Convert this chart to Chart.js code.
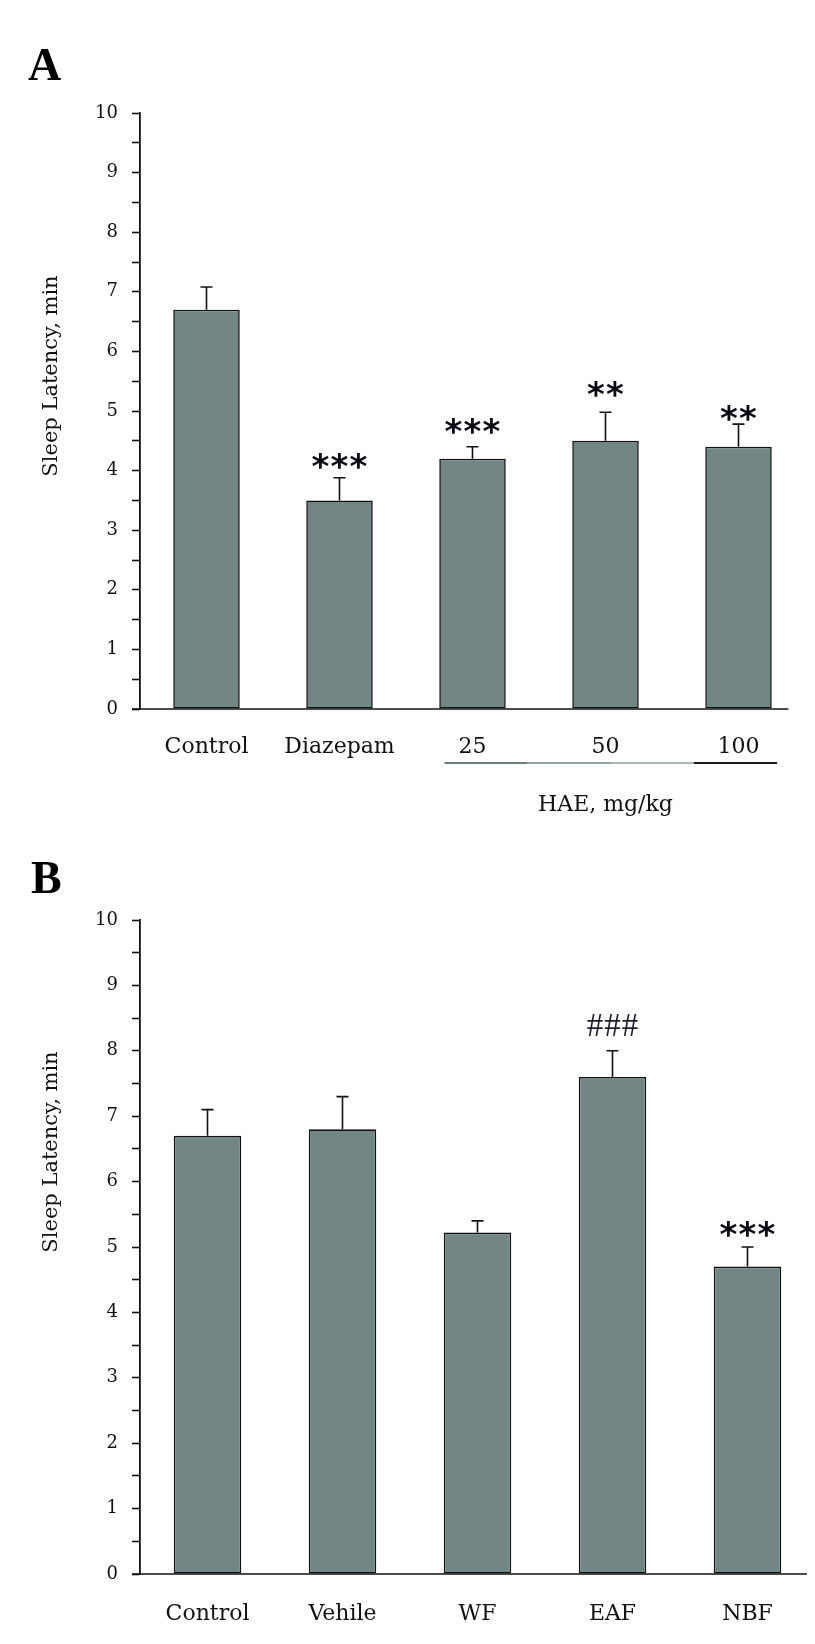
<!DOCTYPE html>
<html><head><meta charset="utf-8">
<script src="https://cdn.jsdelivr.net/npm/chart.js@4.4.0/dist/chart.umd.min.js"></script>
<style>html,body{margin:0;padding:0;background:#fff;overflow:hidden} canvas{display:block;}</style>
</head><body>
<canvas id="cA" width="815" height="830" style="width:815px;height:830px"></canvas>
<canvas id="cB" width="815" height="814" style="width:815px;height:814px"></canvas>
<script>
// ---------- data ----------
const categoriesA = ['Control', 'Diazepam', '25', '50', '100'];
const latencyA    = [6.7, 3.5, 4.2, 4.5, 4.4];
const semA        = [0.38, 0.38, 0.2, 0.48, 0.38];
const marksA      = ['', '***', '***', '**', '**'];
const markLevelA  = [null, 4.16, 4.74, 5.37, 4.97];

const categoriesB = ['Control', 'Vehile', 'WF', 'EAF', 'NBF'];
const latencyB    = [6.7, 6.8, 5.22, 7.6, 4.7];
const semB        = [0.4, 0.5, 0.18, 0.4, 0.3];
const marksB      = ['', '', '', '###', '***'];
const markLevelB  = [null, null, null, 8.39, 5.27];

const yMin = 0, yMax = 10, yStep = 0.5;
const yTitle = 'Sleep Latency, min';
const groupLabelA = 'HAE, mg/kg';

// ---------- style ----------
const BAR = '#728686';
const INK = '#111';
const SERIF = '"DejaVu Serif", serif';

function decoPlugin(cfg) {
  return {
    id: 'deco' + cfg.letter,
    afterDatasetsDraw(chart) {
      const ctx = chart.ctx, x = chart.scales.x, y = chart.scales.y, ca = chart.chartArea;
      const step = x.getPixelForValue(1) - x.getPixelForValue(0);
      ctx.save();
      // x axis baseline
      ctx.strokeStyle = INK; ctx.lineWidth = 1.6;
      ctx.beginPath();
      ctx.moveTo(ca.left - 8, y.getPixelForValue(0));
      ctx.lineTo(x.getPixelForValue(4) + cfg.axisEnd * step, y.getPixelForValue(0));
      ctx.stroke();
      // error bars
      cfg.values.forEach((v, i) => {
        const cx = x.getPixelForValue(i);
        const y0 = y.getPixelForValue(v), y1 = y.getPixelForValue(v + cfg.sem[i]);
        ctx.lineWidth = 1.6; ctx.strokeStyle = INK;
        ctx.beginPath(); ctx.moveTo(cx, y0); ctx.lineTo(cx, y1);
        ctx.moveTo(cx - 6, y1); ctx.lineTo(cx + 6, y1); ctx.stroke();
      });
      // significance marks
      cfg.marks.forEach((m, i) => {
        if (!m) return;
        const cx = x.getPixelForValue(i), cy = y.getPixelForValue(cfg.levels[i]);
        let font, gap, color;
        if (m[0] === '*') { font = 'bold 34px "DejaVu Sans"'; gap = 19; color = '#0a0a14'; }
        else { font = '33px "Liberation Serif"'; gap = 17.5; color = '#1c1c2c'; }
        ctx.font = font; ctx.fillStyle = color; ctx.textAlign = 'center'; ctx.textBaseline = 'alphabetic';
        const mt = ctx.measureText(m[0]);
        const base = cy + (mt.actualBoundingBoxAscent - mt.actualBoundingBoxDescent) / 2;
        const n = m.length;
        for (let k = 0; k < n; k++) {
          ctx.fillText(m[k], cx + (k - (n - 1) / 2) * gap, base);
        }
      });
      // y title
      ctx.save();
      ctx.translate(cfg.titleX, cfg.titleY);
      ctx.rotate(-Math.PI / 2);
      ctx.font = '21px ' + SERIF; ctx.fillStyle = INK;
      ctx.textAlign = 'center'; ctx.textBaseline = 'middle';
      ctx.fillText(yTitle, 0, 0);
      ctx.restore();
      // panel letter
      ctx.font = 'bold 46px "Liberation Serif"'; ctx.fillStyle = '#000';
      ctx.textAlign = 'left'; ctx.textBaseline = 'alphabetic';
      ctx.fillText(cfg.letter, cfg.letterX, cfg.letterY);
      // group underline + label
      if (cfg.group) {
        const yl = y.getPixelForValue(0) + 54;
        const xs = x.getPixelForValue(2) - 0.21 * step;
        const xe = x.getPixelForValue(4) + 0.29 * step;
        const cols = ['#6a7e7e', '#8ea2a2', '#a9b6b6', '#1a1a1a'];
        const seg = (xe - xs) / cols.length;
        ctx.lineWidth = 2;
        cols.forEach((c, k) => {
          ctx.strokeStyle = c; ctx.beginPath();
          ctx.moveTo(xs + k * seg, yl); ctx.lineTo(xs + (k + 1) * seg, yl); ctx.stroke();
        });
        ctx.font = '22px ' + SERIF; ctx.fillStyle = INK;
        ctx.textAlign = 'center'; ctx.textBaseline = 'middle';
        ctx.fillText(cfg.group, x.getPixelForValue(3), y.getPixelForValue(0) + 96);
      }
      ctx.restore();
    }
  };
}

function makeChart(id, cats, vals, pad, xLabelPad, deco) {
  return new Chart(document.getElementById(id), {
    type: 'bar',
    data: { labels: cats, datasets: [{ data: vals, backgroundColor: BAR, borderColor: INK,
      borderWidth: 1.6, borderSkipped: false, barPercentage: 0.5, categoryPercentage: 1.0 }] },
    options: {
      responsive: false, animation: false, devicePixelRatio: 1,
      layout: { padding: pad },
      plugins: { legend: { display: false }, tooltip: { enabled: false }, title: { display: false } },
      scales: {
        x: {
          grid: { display: false }, border: { display: false },
          ticks: { color: INK, font: { family: SERIF, size: 22 }, padding: xLabelPad, maxRotation: 0, autoSkip: false },
          afterFit(s) { s.height = deco.xHeight; }
        },
        y: {
          min: yMin, max: yMax,
          grid: { drawOnChartArea: false, drawTicks: true, tickLength: 8, color: INK, tickWidth: 1.6 },
          border: { display: true, color: INK, width: 1.8 },
          ticks: { stepSize: yStep, autoSkip: false, padding: 14, color: INK,
            font: { family: SERIF, size: 18 },
            callback: v => Number.isInteger(v) ? String(v) : '' },
          afterFit(s) { s.width = 140 - pad.left; }
        }
      }
    },
    plugins: [decoPlugin(deco)]
  });
}

makeChart('cA', categoriesA, latencyA, { top: 113, right: 10, left: 0, bottom: 0 }, 17, {
  letter: 'A', letterX: 28, letterY: 80, values: latencyA, sem: semA, marks: marksA, levels: markLevelA,
  titleX: 52, titleY: 376, axisEnd: 0.375, group: groupLabelA, xHeight: 121
});
makeChart('cB', categoriesB, latencyB, { top: 90, right: 0, left: 0, bottom: 0 }, 19, {
  letter: 'B', letterX: 31, letterY: 63, values: latencyB, sem: semB, marks: marksB, levels: markLevelB,
  titleX: 52, titleY: 322, axisEnd: 0.44, group: null, xHeight: 70
});
</script>
</body></html>
